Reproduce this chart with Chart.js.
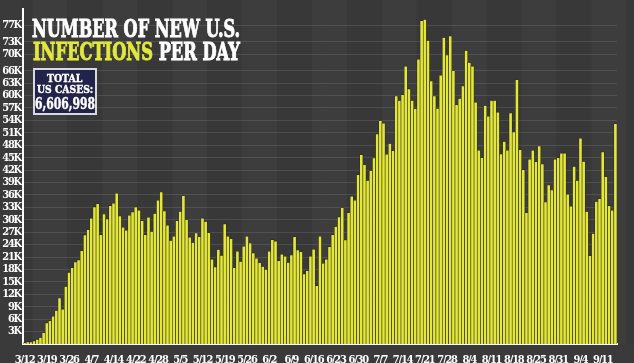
<!DOCTYPE html>
<html>
<head>
<meta charset="utf-8">
<script src="https://cdn.jsdelivr.net/npm/chart.js@4.4.0/dist/chart.umd.min.js"></script>
<style>
  html, body { margin: 0; padding: 0; background: #3a3a3a; }
  #wrap { position: relative; width: 634px; height: 363px; overflow: hidden; }
  #chart { position: absolute; left: 0; top: 0; }
  .fit { position: absolute; white-space: nowrap; transform-origin: 0 0; font-family: 'DejaVu Serif Condensed', 'DejaVu Serif', serif; font-weight: bold; line-height: 1; }
  #title1, #title2 { color: #fff; font-size: 25px; -webkit-text-stroke: 0.9px currentColor; }
  #title2 .hl { color: #e2e83c; }
  #totalBox { position: absolute; left: 33px; top: 68px; width: 60px; height: 43px; background: #22234a; border: 2px solid #d8d8e0; }
  .boxtxt { color: #fff; -webkit-text-stroke: 0.4px #fff; }
</style>
</head>
<body>
<div id="wrap">
  <canvas id="chart" width="634" height="363"></canvas>
  <div id="title1" class="fit" data-x="32" data-y="16" data-w="208">NUMBER OF NEW U.S.</div>
  <div id="title2" class="fit" data-x="33" data-y="39" data-w="207"><span class="hl">INFECTIONS</span> PER DAY</div>
  <div id="totalBox"></div>
  <div class="fit boxtxt" style="font-size:11px" data-x="47" data-y="73" data-w="35">TOTAL</div>
  <div class="fit boxtxt" style="font-size:11px" data-x="37" data-y="84" data-w="56">US CASES:</div>
  <div class="fit boxtxt" style="font-size:16px" data-x="35" data-y="96" data-w="60">6,606,998</div>
</div>
<script>
// new cases per day, 3/12 .. 9/14
const newCases = [
  300, 500, 500, 700, 1100, 1600, 2700, 5100, 5600, 6700,
  8100, 11100, 8400, 13900, 17300, 18400, 19800, 20300, 22500, 26300,
  27600, 30400, 33100, 33900, 26400, 31400, 30200, 33400, 34000, 36400,
  30900, 28200, 27500, 31100, 31900, 33100, 32300, 29800, 26400, 30600,
  27200, 31500, 34700, 36700, 32100, 28700, 25000, 26000, 29800, 32000,
  35800, 30000, 25800, 24500, 26800, 25900, 30400, 29600, 26900, 20500,
  18600, 22800, 21400, 29000, 26000, 25400, 18400, 22400, 19900, 23600,
  26000, 24400, 22000, 20700, 19600, 18700, 18000, 22400, 25200, 24800,
  20100, 21700, 21200, 19700, 21500, 25900, 22700, 22300, 16900, 17700,
  21200, 22900, 14100, 26000, 19500, 20500, 23500, 26400, 28400, 30700,
  32900, 25100, 31700, 35700, 34700, 40900, 45700, 43300, 39500, 41900,
  44900, 50700, 53900, 53300, 45800, 48400, 46700, 59900, 58800, 60200,
  67100, 61600, 58800, 56800, 68800, 78100, 78400, 73300, 63500, 59900,
  56900, 64900, 74000, 69800, 74400, 66000, 57800, 59300, 62300, 70900,
  68000, 67100, 58400, 46800, 45000, 57600, 55000, 58800, 58800, 56000,
  45900, 48900, 46800, 55800, 51200, 63800, 46900, 42100, 31700, 44600,
  46800, 44000, 47800, 43500, 34300, 38400, 37200, 44600, 45000, 46100,
  46100, 36200, 33300, 42900, 39500, 49700, 44100, 32000, 21300, 26700,
  34400, 35100, 46400, 40400, 33400, 32300, 53200
];

// x-axis labels, one every 7 bars (as printed on the original)
const tickLabels = ['3/12', '3/19', '3/26', '4/7', '4/14', '4/22', '4/28', '5/5', '5/12',
  '5/19', '5/26', '6/2', '6/9', '6/16', '6/23', '6/30', '7/7', '7/14', '7/21', '7/28',
  '8/4', '8/11', '8/18', '8/25', '8/31', '9/4', '9/11'];

// y-axis ticks as printed
const yTicks = [3000, 6000, 9000, 12000, 15000, 18000, 21000, 24000, 27000, 30000,
  33000, 36000, 39000, 42000, 45000, 48000, 51000, 54000, 57000, 60000, 63000,
  66000, 70000, 73000, 77000];

const startDay = new Date(2020, 2, 12);
const days = newCases.map((_, i) => {
    const d = new Date(startDay);
    d.setDate(d.getDate() + i);
    return (d.getMonth() + 1) + '/' + d.getDate();
});

const BAR_YELLOW = '#e3e73c';
const tickFont = { family: "'DejaVu Serif Condensed', 'DejaVu Serif', serif", size: 11, weight: 'bold' };

// background with faint vertical bands every 11 days, tighter tick text
const bandPlugin = {
    id: 'bands',
    beforeDraw(chart) {
        const { ctx, chartArea, scales } = chart;
        ctx.save();
        ctx.fillStyle = '#3a3a3a';
        ctx.fillRect(0, 0, chart.width, chart.height);
        const step = scales.x.getPixelForValue(1) - scales.x.getPixelForValue(0);
        let k = 0;
        for (let i = 3 - 11; i < days.length + 11; i += 11, k++) {
            const x0 = scales.x.getPixelForValue(0) + (i - 0.5) * step;
            ctx.fillStyle = k % 2 ? '#3d3d3d' : '#383838';
            const left = Math.max(x0, chartArea.left);
            const right = Math.min(x0 + 11 * step, chart.width);
            if (right > left) ctx.fillRect(left, 0, right - left, chartArea.bottom);
        }
        ctx.restore();
        ctx.letterSpacing = '-1.2px';
    }
};

new Chart(document.getElementById('chart'), {
    type: 'bar',
    data: {
        labels: days,
        datasets: [{
            data: newCases,
            backgroundColor: BAR_YELLOW,
            borderColor: '#26260f',
            borderWidth: { left: 0.6, right: 0.6, top: 0.6, bottom: 0 },
            borderSkipped: false,
            barPercentage: 1,
            categoryPercentage: 1
        }]
    },
    options: {
        responsive: false,
        animation: false,
        devicePixelRatio: 1,
        layout: { padding: { top: 0, right: 17, left: 0, bottom: 0 } },
        plugins: { legend: { display: false }, tooltip: { enabled: false } },
        scales: {
            x: {
                grid: { display: false },
                border: { display: true, color: '#ffffff', width: 2 },
                ticks: {
                    color: '#ffffff',
                    font: tickFont,
                    autoSkip: false,
                    maxRotation: 0,
                    padding: 2,
                    callback: (v, i) => (i % 7 === 0 ? tickLabels[i / 7] : null)
                },
                afterFit: (s) => { s.height = 19; }
            },
            y: {
                min: 0,
                max: 81000,
                afterBuildTicks: (s) => { s.ticks = yTicks.map(v => ({ value: v })); },
                grid: { color: 'rgba(255,255,255,0.11)', drawTicks: false },
                border: { display: true, color: '#ffffff', width: 2 },
                ticks: {
                    color: '#ffffff',
                    font: tickFont,
                    autoSkip: false,
                    padding: 2,
                    callback: (v) => (v / 1000) + 'K'
                },
                afterFit: (s) => { s.width = 23; }
            }
        }
    },
    plugins: [bandPlugin]
});

// squeeze the overlay texts to their widths in the original
document.querySelectorAll('.fit').forEach(el => {
    const w = el.scrollWidth;
    el.style.left = el.dataset.x + 'px';
    el.style.top = el.dataset.y + 'px';
    el.style.transform = 'scaleX(' + (el.dataset.w / w) + ')';
});
</script>
</body>
</html>
